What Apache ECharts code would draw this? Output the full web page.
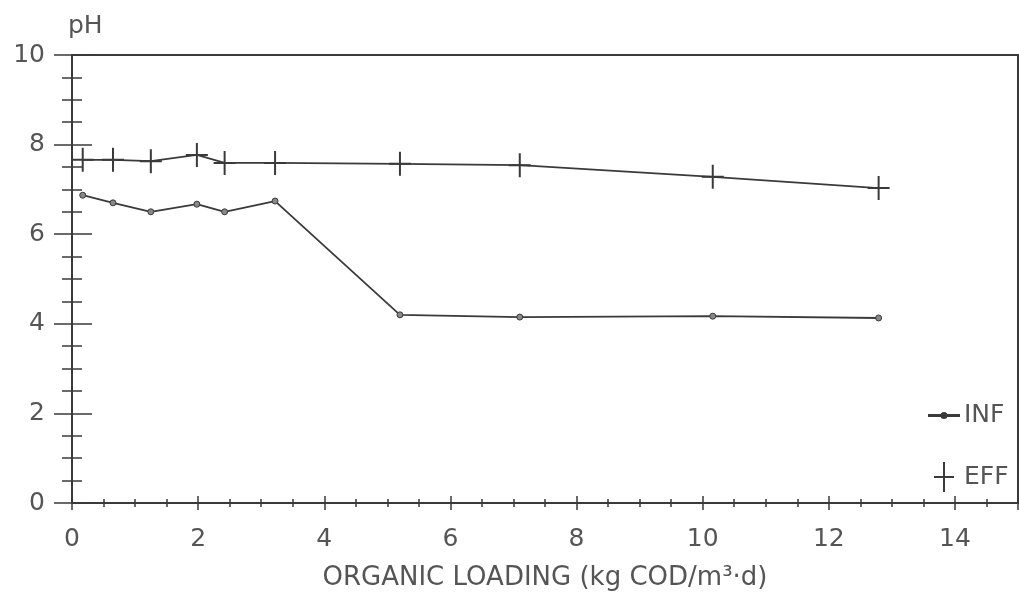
<!DOCTYPE html>
<html>
<head>
<meta charset="utf-8">
<script src="https://cdn.jsdelivr.net/npm/echarts@6/dist/echarts.min.js"></script>
<style>html,body{margin:0;padding:0;background:#fff}#c{width:1019px;height:609px}</style>
</head>
<body>
<div id="c"></div>
<script>
// Organic loading (kg COD/m3 d)
var loading = [0.17, 0.65, 1.25, 1.98, 2.42, 3.22, 5.2, 7.1, 10.16, 12.79];
// Influent pH
var infPH = [6.87, 6.70, 6.50, 6.67, 6.50, 6.74, 4.20, 4.15, 4.17, 4.13];
// Effluent pH
var effPH = [7.66, 7.66, 7.63, 7.77, 7.59, 7.59, 7.57, 7.54, 7.28, 7.03];
var seriesNames = ['INF', 'EFF'];
var xTitle = 'ORGANIC LOADING (kg COD/m³·d)';
var yTitle = 'pH';

var FONT = 'DejaVu Sans';
var INK = '#3a3a3a';
var TXT = '#555';
var crossPath = 'path://M-1,-12 L1,-12 L1,12 L-1,12 Z M-11,-1 L11,-1 L11,1 L-11,1 Z';
var infIcon = 'path://M0,4.4 L30,4.4 L30,5.6 L0,5.6 Z M15,2.5 A2.5,2.5 0 1 1 15,7.5 A2.5,2.5 0 1 1 15,2.5 Z';
var effIcon = 'path://M9,0 L11,0 L11,30 L9,30 Z M0,14 L20,14 L20,16 L0,16 Z';

function pairs(xs, ys) { return xs.map(function (x, i) { return [x, ys[i]]; }); }

var chart = echarts.init(document.getElementById('c'));
chart.setOption({
  animation: false,
  grid: { left: 72, right: 1, top: 55, bottom: 106, show: true, borderColor: INK, borderWidth: 2, backgroundColor: 'transparent' },
  legend: {
    orient: 'vertical', left: 923, top: 398, itemGap: 34, itemWidth: 30, itemHeight: 30,
    textStyle: { fontFamily: FONT, fontSize: 25, color: TXT },
    data: [
      { name: seriesNames[0], icon: infIcon, itemStyle: { color: INK } },
      { name: seriesNames[1], icon: effIcon, itemStyle: { color: INK } }
    ]
  },
  xAxis: [
    {
      type: 'value', position: 'bottom', min: 0, max: 15, interval: 2,
      name: xTitle, nameLocation: 'middle', nameGap: 62,
      nameTextStyle: { fontFamily: FONT, fontSize: 26, color: TXT },
      axisLine: { onZero: false, lineStyle: { color: INK, width: 2 } },
      axisTick: { show: true, length: 7, lineStyle: { color: INK, width: 1.5 } },
      minorTick: { show: true, splitNumber: 4, length: 4, lineStyle: { color: INK, width: 1.5 } },
      axisLabel: { margin: 24, fontFamily: FONT, fontSize: 25, color: TXT, showMaxLabel: false },
      splitLine: { show: false }
    },
    {
      type: 'value', position: 'bottom', min: 0, max: 15, interval: 2,
      axisLine: { show: false, onZero: false },
      axisTick: { show: true, inside: true, length: 7, lineStyle: { color: INK, width: 1.5 } },
      minorTick: { show: true, splitNumber: 4, length: 4, lineStyle: { color: INK, width: 1.5 } },
      axisLabel: { show: false },
      splitLine: { show: false }
    }
  ],
  yAxis: [
    {
      type: 'value', position: 'left', min: 0, max: 10, interval: 2,
      name: yTitle, nameLocation: 'end', nameGap: 16,
      nameTextStyle: { fontFamily: FONT, fontSize: 25, color: TXT, align: 'left', padding: [0, 0, 0, -4] },
      axisLine: { onZero: false, lineStyle: { color: INK, width: 2 } },
      axisTick: { show: true, length: 18, lineStyle: { color: INK, width: 1.5 } },
      minorTick: { show: true, splitNumber: 4, length: 10, lineStyle: { color: INK, width: 1.5 } },
      axisLabel: { margin: 27, fontFamily: FONT, fontSize: 25, color: TXT },
      splitLine: { show: false }
    },
    {
      type: 'value', position: 'left', min: 0, max: 10, interval: 2,
      axisLine: { show: false, onZero: false },
      axisTick: { show: true, inside: true, length: 20, lineStyle: { color: INK, width: 1.5 } },
      minorTick: { show: true, splitNumber: 4, length: 10, lineStyle: { color: INK, width: 1.5 } },
      axisLabel: { show: false },
      splitLine: { show: false }
    }
  ],
  series: [
    {
      name: seriesNames[0], type: 'line', xAxisIndex: 0, yAxisIndex: 0,
      data: pairs(loading, infPH),
      symbol: 'circle', symbolSize: 6, showAllSymbol: true,
      lineStyle: { color: INK, width: 1.8 },
      itemStyle: { color: '#888', borderColor: INK, borderWidth: 1 }
    },
    {
      name: seriesNames[1], type: 'line', xAxisIndex: 0, yAxisIndex: 0,
      data: pairs(loading, effPH),
      symbol: crossPath, symbolSize: [22, 24], showAllSymbol: true,
      lineStyle: { color: INK, width: 1.8 },
      itemStyle: { color: INK }
    }
  ]
});
</script>
</body>
</html>
